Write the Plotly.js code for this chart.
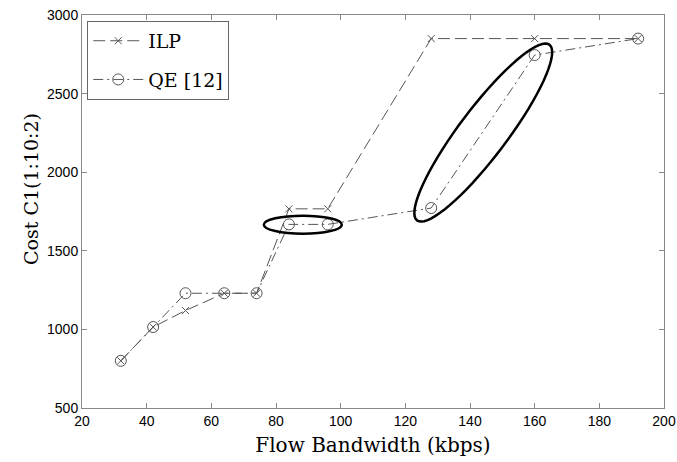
<!DOCTYPE html>
<html>
<head>
<meta charset="utf-8">
<script src="https://cdn.plot.ly/plotly-3.0.1.min.js"></script>
<style>html,body{margin:0;padding:0;background:#fff;}#chart{width:677px;height:462px;}</style>
</head>
<body>
<div id="chart"></div>
<script>
// Data
const bandwidth = [32, 42, 52, 64, 74, 84, 96, 128, 160, 192];
const costILP   = [800, 1015, 1120, 1230, 1230, 1767, 1767, 2850, 2850, 2850];
const costQE    = [800, 1015, 1230, 1230, 1230, 1668, 1668, 1772, 2745, 2850];
const seriesNames = ['ILP', 'QE [12]'];
const xTickVals = [20, 40, 60, 80, 100, 120, 140, 160, 180, 200];
const yTickVals = [500, 1000, 1500, 2000, 2500, 3000];

// Highlight ellipses (centres in data units)
const ellipseCentreX = [88.3, 144.1];
const ellipseCentreY = [1666, 2252];

function rotatedEllipsePath(a, b, deg) {
  const th = deg * Math.PI / 180;
  let d = '';
  for (let i = 0; i <= 72; i++) {
    const t = i / 72 * 2 * Math.PI;
    const px = a * Math.cos(t) * Math.cos(th) - b * Math.sin(t) * Math.sin(th);
    const py = a * Math.cos(t) * Math.sin(th) + b * Math.sin(t) * Math.cos(th);
    d += (i === 0 ? 'M' : 'L') + px.toFixed(2) + ',' + py.toFixed(2);
  }
  return d + 'Z';
}

const serif = 'DejaVu Serif, serif';
const sans = 'Liberation Sans, Arial, sans-serif';

const traces = [
  {
    x: bandwidth, y: costILP, name: seriesNames[0], legendgroup: 'a', type: 'scatter', mode: 'lines+markers',
    line: {color: '#555', width: 1, dash: '12px,5px'},
    marker: {symbol: 'x-thin-open', size: 7, color: '#555', line: {color: '#555', width: 1}}
  },
  {
    x: bandwidth, y: costQE, name: seriesNames[1], legendgroup: 'b', type: 'scatter', mode: 'lines+markers',
    line: {color: '#555', width: 1, dash: '10px,4px,2px,4px'},
    marker: {symbol: 'circle-open', size: 11, color: '#555', line: {color: '#555', width: 1}}
  }
];

const axisCommon = {
  showgrid: false, zeroline: false, showline: true, mirror: 'ticks',
  linecolor: '#888', linewidth: 1, ticks: 'inside', ticklen: 5, tickcolor: '#888',
  tickfont: {family: sans, size: 14, color: '#000'}
};

const layout = {
  width: 677, height: 462,
  margin: {l: 82, r: 13, t: 15, b: 54},
  paper_bgcolor: '#fff', plot_bgcolor: '#fff',
  xaxis: Object.assign({}, axisCommon, {
    range: [20, 200], tickvals: xTickVals, ticktext: xTickVals.map(String),
    title: {text: 'Flow Bandwidth (kbps)', font: {family: serif, size: 20, color: '#000'}, standoff: 10}
  }),
  yaxis: Object.assign({}, axisCommon, {
    range: [500, 3000], tickvals: yTickVals, ticktext: yTickVals.map(String)
  }),
  annotations: [{
    text: 'Cost C1(1:10:2)', textangle: -90, showarrow: false,
    xref: 'paper', yref: 'paper', x: (31 - 82) / 582, y: (408 - 189) / 393,
    xanchor: 'center', yanchor: 'middle',
    font: {family: serif, size: 19, color: '#000'}
  }],
  showlegend: true,
  legend: {
    x: 0.009, y: 0.985, xanchor: 'left', yanchor: 'top',
    bgcolor: '#fff', bordercolor: '#666', borderwidth: 1,
    itemwidth: 50, tracegroupgap: 11,
    font: {family: serif, size: 19, color: '#000'}
  },
  shapes: [
    {
      type: 'circle', xref: 'x', yref: 'y', xsizemode: 'pixel', ysizemode: 'pixel',
      xanchor: ellipseCentreX[0], yanchor: ellipseCentreY[0],
      x0: -39, x1: 39, y0: -9, y1: 9,
      line: {color: '#000', width: 2.5}
    },
    {
      type: 'path', xref: 'x', yref: 'y', xsizemode: 'pixel', ysizemode: 'pixel',
      xanchor: ellipseCentreX[1], yanchor: ellipseCentreY[1],
      path: rotatedEllipsePath(110, 24, 53),
      line: {color: '#000', width: 2.5}
    }
  ]
};

Plotly.newPlot('chart', traces, layout, {displayModeBar: false, staticPlot: true});
</script>
</body>
</html>
